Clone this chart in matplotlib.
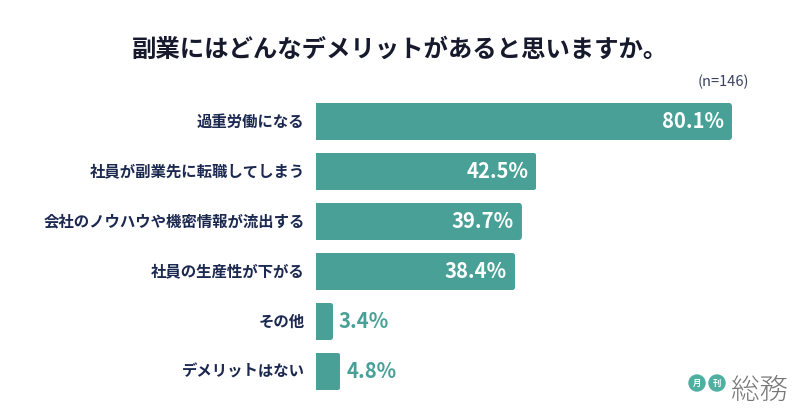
import matplotlib
matplotlib.use('Agg')
import matplotlib.pyplot as plt
from matplotlib.patches import FancyBboxPatch, Circle

plt.rcParams['font.family'] = ['Noto Sans CJK JP', 'DejaVu Sans']

TITLE = '副業にはどんなデメリットがあると思いますか。'
NOTE = '(n=146)'
categories = ['過重労働になる', '社員が副業先に転職してしまう', '会社のノウハウや機密情報が流出する',
              '社員の生産性が下がる', 'その他', 'デメリットはない']
values = [80.1, 42.5, 39.7, 38.4, 3.4, 4.8]

BAR = '#48a096'
NAVY = '#1b2850'
JP = 'Noto Sans CJK JP'
W, H = 800, 419

fig = plt.figure(figsize=(W / 100, H / 100), dpi=100)
fig.patch.set_facecolor('white')

# axes over the bar area, x in percent
left, right = 315.5, 732.0
top, bottom = 96.5, 396.5
ax = fig.add_axes([left / W, 1 - bottom / H, (right - left) / W, (bottom - top) / H])
ax.set_xlim(0, 80.1)
ax.set_ylim(len(values) - 0.5, -0.5)
ax.axis('off')

bar_h = 0.74
bars = ax.barh(range(len(values)), values, height=bar_h, color=BAR)
for i, (b, v) in enumerate(zip(bars, values)):
    # round only the right end
    clip = FancyBboxPatch((-2, i - bar_h / 2), v + 2, bar_h,
                          boxstyle='round,pad=0,rounding_size=0.6',
                          mutation_aspect=0.11, transform=ax.transData)
    b.set_clip_path(clip)
    ax.text(-2.1, i, categories[i], ha='right', va='center', fontsize=11.1,
            fontweight='bold', color=NAVY)
    if v > 10:
        ax.text(v - 1.6, i, '%.1f%%' % v, ha='right', va='center', fontsize=14.6,
                fontfamily=JP, fontweight='bold', color='white')
    else:
        ax.text(v + 1.1, i, '%.1f%%' % v, ha='left', va='center', fontsize=14.6,
                fontfamily=JP, fontweight='bold', color=BAR)

# overlay in pixels for title, note and logo
ov = fig.add_axes([0, 0, 1, 1], zorder=5)
ov.set_xlim(0, W)
ov.set_ylim(H, 0)
ov.axis('off')
ov.patch.set_alpha(0)
ov.text(400, 50, TITLE, ha='center', va='center', fontsize=17.6, fontweight='bold', color='#161a2c')
ov.text(749, 82, NOTE, ha='right', va='center', fontsize=10.5, color='#3a4260', fontfamily=JP)

for x, ch in [(697, '月'), (717, '刊')]:
    ov.add_patch(Circle((x, 383), 8.7, color='#4fb0a2', lw=0))
    ov.text(x, 383, ch, ha='center', va='center', fontsize=6, fontweight='bold', color='white')
ov.text(760, 391, '総務', ha='center', va='center', fontsize=20.5, fontweight='light', color='#777777')

fig.savefig('out.png', dpi=100)
